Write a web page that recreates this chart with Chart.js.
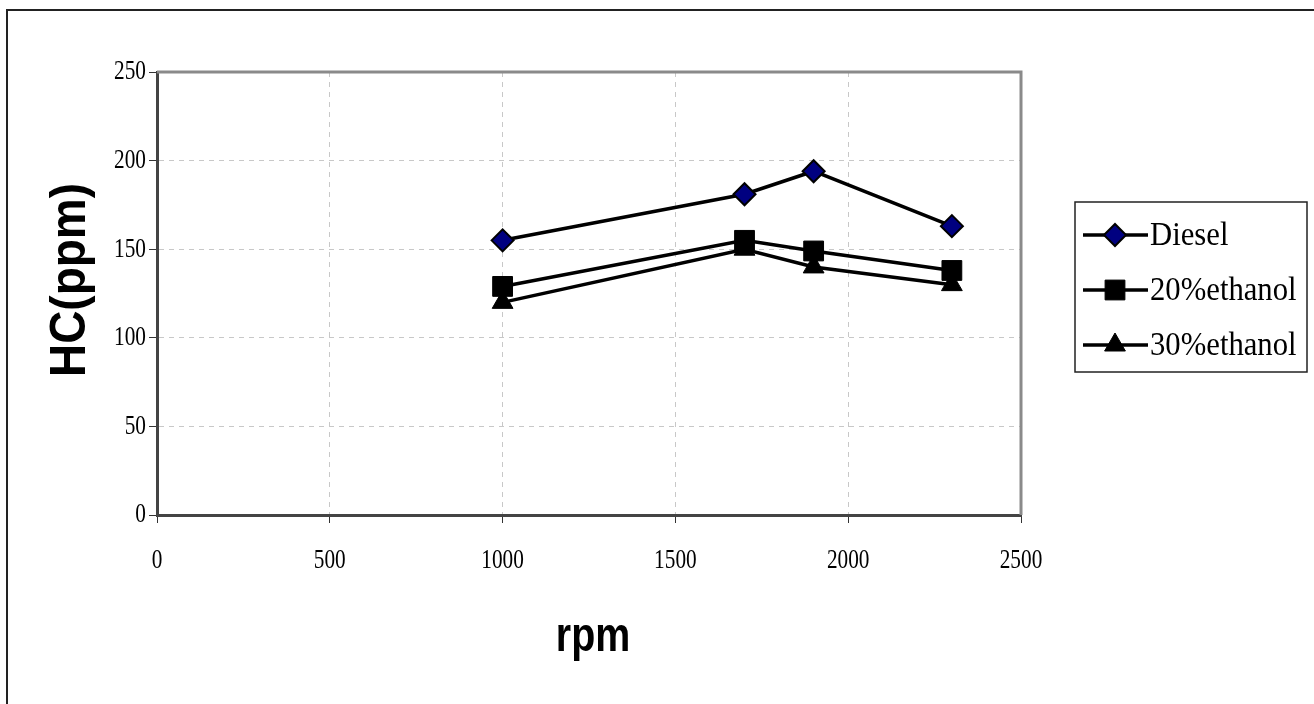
<!DOCTYPE html>
<html lang="en">
<head>
    <meta charset="UTF-8">
    <title>HC vs rpm</title>
    <script src="https://cdn.jsdelivr.net/npm/chart.js"></script>
    <style>
        body { margin: 0; background: #fff; }
        #wrap { position: relative; width: 1314px; height: 704px; }
    </style>
</head>
<body>
    <div id="wrap"><canvas id="hcChart" width="1314" height="704"></canvas></div>
    <script>
        // values
        const rpm = [1000, 1700, 1900, 2300];
        const diesel = [155, 181, 194, 163];
        const ethanol20 = [129, 155, 149, 138];
        const ethanol30 = [120, 150, 140, 130];
        const seriesNames = ['Diesel', '20%ethanol', '30%ethanol'];
        const xTicks = [0, 500, 1000, 1500, 2000, 2500];
        const yTicks = [0, 50, 100, 150, 200, 250];

        const pts = arr => rpm.map((x, i) => ({ x: x, y: arr[i] }));

        // draws text squeezed horizontally, like the original export
        function squeezed(ctx, text, x, y, font, sx, align, rot) {
            ctx.save();
            ctx.translate(x, y);
            if (rot) ctx.rotate(rot);
            ctx.scale(sx, 1);
            ctx.font = font;
            ctx.fillStyle = '#000';
            ctx.textAlign = align;
            ctx.textBaseline = 'middle';
            ctx.fillText(text, 0, 0);
            ctx.restore();
        }

        const decor = {
            id: 'decor',
            beforeDraw(chart) {
                const ctx = chart.ctx;
                ctx.save();
                ctx.fillStyle = '#fff';
                ctx.fillRect(0, 0, chart.width, chart.height);
                // outer chart border (cut off at right and bottom)
                ctx.strokeStyle = '#222';
                ctx.lineWidth = 2;
                ctx.beginPath();
                ctx.moveTo(7, 704);
                ctx.lineTo(7, 10);
                ctx.lineTo(1314, 10);
                ctx.stroke();
                ctx.restore();
            },
            beforeDatasetsDraw(chart) {
                const ctx = chart.ctx;
                const a = chart.chartArea;
                ctx.save();
                ctx.strokeStyle = '#8a8a8a';
                ctx.lineWidth = 3;
                ctx.beginPath();
                ctx.moveTo(a.left, a.top);
                ctx.lineTo(a.right, a.top);
                ctx.lineTo(a.right, a.bottom);
                ctx.stroke();
                ctx.restore();
            },
            afterDraw(chart) {
                const ctx = chart.ctx;
                const xs = chart.scales.x, ys = chart.scales.y;
                const tickFont = '28px "Liberation Serif"';
                xs.ticks.forEach((t, i) => {
                    squeezed(ctx, String(t.value), xs.getPixelForTick(i), 561, tickFont, 0.76, 'center');
                });
                ys.ticks.forEach((t, i) => {
                    squeezed(ctx, String(t.value), 146, ys.getPixelForTick(i), tickFont, 0.76, 'right');
                });
                // axis titles
                squeezed(ctx, 'rpm', 593, 638, 'bold 48px "Liberation Sans"', 0.82, 'center');
                squeezed(ctx, 'HC(ppm)', 71, 280, 'bold 50px "Liberation Sans"', 0.92, 'center', -Math.PI / 2);

                // legend box
                const lx = 1075, ly = 202, lw = 232, lh = 170;
                ctx.save();
                ctx.strokeStyle = '#222';
                ctx.lineWidth = 1.5;
                ctx.strokeRect(lx, ly, lw, lh);
                chart.data.datasets.forEach((ds, i) => {
                    const cy = 235 + i * 55;
                    ctx.strokeStyle = '#000';
                    ctx.lineWidth = 3.5;
                    ctx.beginPath();
                    ctx.moveTo(1083, cy);
                    ctx.lineTo(1148, cy);
                    ctx.stroke();
                    ctx.fillStyle = ds.pointBackgroundColor;
                    ctx.strokeStyle = '#000';
                    ctx.lineWidth = ds.pointBorderWidth;
                    Chart.helpers.drawPoint(ctx, {
                        pointStyle: ds.pointStyle,
                        radius: ds.pointRadius,
                        rotation: 0,
                        borderWidth: ds.pointBorderWidth
                    }, 1115, cy);
                    squeezed(ctx, ds.label, 1150, cy + 1, '33px "Liberation Serif"', 0.93, 'left');
                });
                ctx.restore();
            }
        };

        const common = {
            borderColor: '#000',
            borderWidth: 3.5,
            pointBorderColor: '#000',
            tension: 0,
            fill: false
        };

        const gridColor = (c, last) =>
            (c.tick && (c.tick.value === 0 || c.tick.value === last)) ? 'transparent' : '#c8c8c8';

        const ctx = document.getElementById('hcChart').getContext('2d');
        new Chart(ctx, {
            type: 'line',
            data: {
                datasets: [
                    Object.assign({}, common, {
                        label: seriesNames[0],
                        data: pts(diesel),
                        pointStyle: 'rectRot',
                        pointRadius: 11,
                        pointBackgroundColor: '#000080',
                        pointBorderWidth: 2
                    }),
                    Object.assign({}, common, {
                        label: seriesNames[1],
                        data: pts(ethanol20),
                        pointStyle: 'rect',
                        pointRadius: 14,
                        pointBackgroundColor: '#000',
                        pointBorderWidth: 1
                    }),
                    Object.assign({}, common, {
                        label: seriesNames[2],
                        data: pts(ethanol30),
                        pointStyle: 'triangle',
                        pointRadius: 12,
                        pointBackgroundColor: '#000',
                        pointBorderWidth: 1
                    })
                ]
            },
            options: {
                responsive: false,
                animation: false,
                layout: { padding: { left: 157, top: 72, right: 1314 - 1021, bottom: 704 - 515 } },
                plugins: { legend: { display: false }, tooltip: { enabled: false } },
                scales: {
                    x: {
                        type: 'linear',
                        min: xTicks[0],
                        max: xTicks[xTicks.length - 1],
                        afterBuildTicks: s => { s.ticks = xTicks.map(v => ({ value: v })); },
                        afterFit: s => { s.height = 0; },
                        ticks: { display: false },
                        border: { color: '#444', width: 3, dash: [5, 5] },
                        grid: {
                            color: c => gridColor(c, 2500),
                            tickColor: '#333',
                            tickLength: 8,
                            tickBorderDash: [],
                            lineWidth: 1
                        }
                    },
                    y: {
                        min: yTicks[0],
                        max: yTicks[yTicks.length - 1],
                        afterBuildTicks: s => { s.ticks = yTicks.map(v => ({ value: v })); },
                        afterFit: s => { s.width = 0; },
                        ticks: { display: false },
                        border: { color: '#444', width: 3, dash: [5, 5] },
                        grid: {
                            color: c => gridColor(c, 250),
                            tickColor: '#333',
                            tickLength: 8,
                            tickBorderDash: [],
                            lineWidth: 1
                        }
                    }
                }
            },
            plugins: [decor]
        });
    </script>
</body>
</html>
